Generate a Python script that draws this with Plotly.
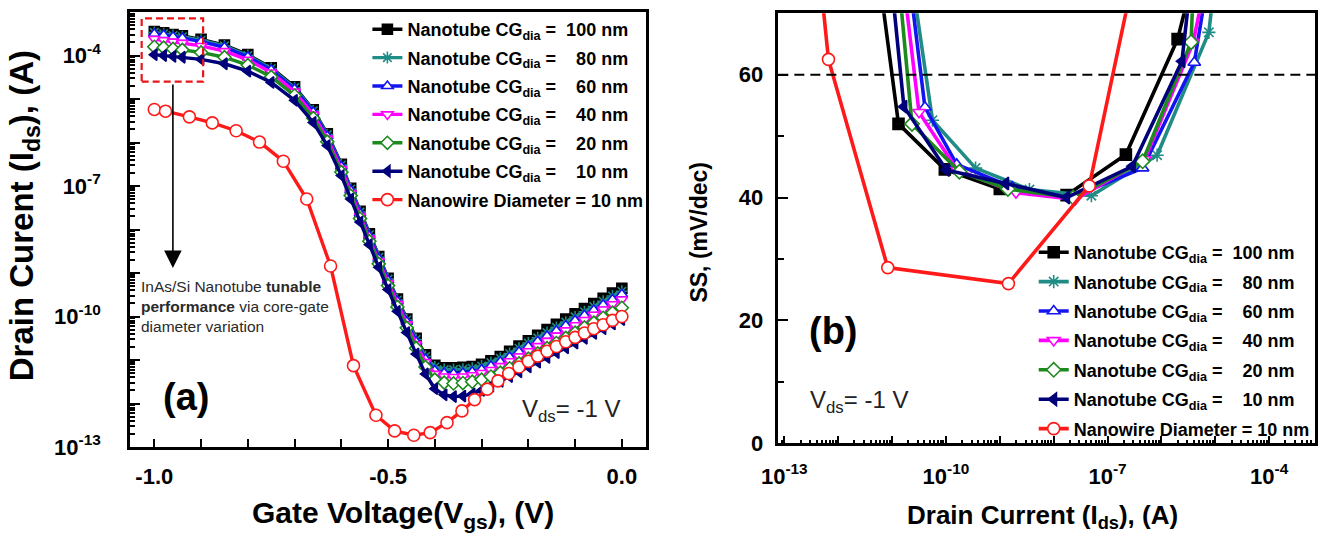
import plotly.graph_objects as go

# ---------------- Panel (a): Id-Vg (log10 of drain current, A) ----------------
vg_nt = [-1.00, -0.98, -0.96, -0.94, -0.90, -0.85, -0.80, -0.75, -0.70, -0.66, -0.63, -0.60,
         -0.58, -0.56, -0.54, -0.52, -0.50, -0.48, -0.46, -0.44, -0.42, -0.40, -0.38, -0.36,
         -0.34, -0.32, -0.30, -0.28, -0.26, -0.24, -0.22, -0.20, -0.18, -0.16, -0.14, -0.12,
         -0.10, -0.08, -0.06, -0.04, -0.02, 0.00]

log_id_100 = [-3.45, -3.48, -3.52, -3.55, -3.63, -3.76, -3.98, -4.28, -4.72, -5.25, -5.80, -6.50,
              -7.05, -7.58, -8.10, -8.62, -9.12, -9.60, -10.06, -10.50, -10.88, -11.12, -11.18, -11.18,
              -11.17, -11.15, -11.10, -11.02, -10.92, -10.80, -10.68, -10.56, -10.43, -10.30, -10.18, -10.06,
              -9.94, -9.82, -9.70, -9.58, -9.46, -9.35]
log_id_80 = [-3.47, -3.50, -3.54, -3.57, -3.65, -3.78, -4.00, -4.30, -4.74, -5.27, -5.82, -6.52,
             -7.07, -7.60, -8.12, -8.64, -9.14, -9.62, -10.08, -10.53, -10.92, -11.16, -11.22, -11.22,
             -11.21, -11.19, -11.14, -11.06, -10.96, -10.85, -10.73, -10.61, -10.49, -10.37, -10.25, -10.13,
             -10.01, -9.89, -9.77, -9.65, -9.53, -9.42]
log_id_60 = [-3.50, -3.53, -3.57, -3.60, -3.68, -3.81, -4.03, -4.33, -4.77, -5.30, -5.85, -6.55,
             -7.10, -7.63, -8.15, -8.67, -9.17, -9.65, -10.12, -10.58, -10.98, -11.24, -11.30, -11.31,
             -11.30, -11.27, -11.22, -11.14, -11.04, -10.93, -10.81, -10.69, -10.57, -10.45, -10.33, -10.21,
             -10.09, -9.97, -9.85, -9.73, -9.61, -9.49]
log_id_40 = [-3.62, -3.65, -3.68, -3.71, -3.78, -3.90, -4.10, -4.39, -4.83, -5.36, -5.91, -6.61,
             -7.16, -7.69, -8.21, -8.73, -9.23, -9.71, -10.18, -10.64, -11.05, -11.32, -11.38, -11.39,
             -11.38, -11.35, -11.30, -11.23, -11.14, -11.03, -10.92, -10.80, -10.68, -10.56, -10.44, -10.32,
             -10.20, -10.08, -9.96, -9.84, -9.72, -9.61]
log_id_20 = [-3.80, -3.82, -3.85, -3.87, -3.93, -4.04, -4.22, -4.49, -4.92, -5.44, -5.98, -6.68,
             -7.22, -7.75, -8.27, -8.79, -9.29, -9.78, -10.26, -10.73, -11.16, -11.45, -11.52, -11.54,
             -11.53, -11.50, -11.45, -11.38, -11.29, -11.19, -11.08, -10.97, -10.85, -10.73, -10.61, -10.49,
             -10.37, -10.25, -10.14, -10.03, -9.91, -9.80]
log_id_10 = [-3.98, -4.00, -4.02, -4.04, -4.09, -4.19, -4.36, -4.62, -5.03, -5.54, -6.07, -6.76,
             -7.30, -7.83, -8.35, -8.87, -9.38, -9.88, -10.37, -10.86, -11.32, -11.66, -11.80, -11.84,
             -11.83, -11.78, -11.70, -11.60, -11.49, -11.38, -11.27, -11.16, -11.05, -10.94, -10.83, -10.72,
             -10.61, -10.50, -10.39, -10.28, -10.17, -10.07]

vg_nw = [-1.000, -0.976, -0.925, -0.876, -0.825, -0.775, -0.724, -0.674, -0.623, -0.574, -0.526,
         -0.486, -0.445, -0.410, -0.374, -0.342, -0.315, -0.288, -0.265, -0.242, -0.220, -0.200,
         -0.180, -0.160, -0.140, -0.120, -0.100, -0.080, -0.060, -0.040, -0.020, 0.000]
log_id_nw = [-5.24, -5.28, -5.41, -5.55, -5.73, -5.99, -6.43, -7.30, -8.84, -11.13, -12.27,
             -12.63, -12.73, -12.67, -12.44, -12.17, -11.91, -11.67, -11.48, -11.31, -11.16, -11.03,
             -10.91, -10.80, -10.69, -10.58, -10.48, -10.38, -10.28, -10.19, -10.09, -10.00]

# ---------------- Panel (b): SS vs Ids (log10 of Ids, A) ----------------
ss_log_ids_100 = [-11.45, -10.88, -10.02, -9.00, -7.76, -6.66, -5.70, -5.15]
ss_100 = [90, 52.0, 44.6, 41.4, 40.4, 47.0, 65.8, 85]
ss_log_ids_80 = [-10.87, -10.25, -9.45, -8.45, -7.30, -6.08, -5.12, -4.89]
ss_80 = [90, 52.6, 44.8, 41.3, 40.3, 46.9, 66.9, 85]
ss_log_ids_60 = [-10.88, -10.39, -9.80, -8.77, -7.68, -6.35, -5.39, -4.96]
ss_60 = [90, 54.7, 45.4, 41.7, 40.0, 44.8, 62.0, 85]
ss_log_ids_40 = [-10.99, -10.50, -9.79, -8.70, -7.60, -6.31, -5.41, -4.95]
ss_40 = [90, 53.9, 44.5, 40.8, 39.7, 46.2, 65.3, 85]
ss_log_ids_20 = [-11.03, -10.63, -9.75, -8.85, -7.64, -6.35, -5.45, -5.36]
ss_20 = [90, 52.0, 44.2, 41.4, 40.0, 45.9, 65.3, 85]
ss_log_ids_10 = [-11.18, -10.78, -9.99, -8.89, -7.76, -6.54, -5.62, -5.33]
ss_10 = [90, 54.8, 44.5, 42.3, 40.0, 45.1, 62.2, 85]
ss_log_ids_nw = [-12.50, -12.18, -11.08, -8.84, -7.34, -6.30]
ss_nw = [90, 62.5, 28.6, 26.0, 41.9, 85]

ss_ideal = 60

NBSP = "\u00a0"
names = [
    "Nanotube CG<sub>dia</sub> =" + NBSP * 2 + "100 nm",
    "Nanotube CG<sub>dia</sub> =" + NBSP * 4 + "80 nm",
    "Nanotube CG<sub>dia</sub> =" + NBSP * 4 + "60 nm",
    "Nanotube CG<sub>dia</sub> =" + NBSP * 4 + "40 nm",
    "Nanotube CG<sub>dia</sub> =" + NBSP * 4 + "20 nm",
    "Nanotube CG<sub>dia</sub> =" + NBSP * 4 + "10 nm",
    "Nanowire Diameter = 10 nm",
]

styles = [
    dict(color="#000000", symbol="square", fill="#000000"),
    dict(color="#1f8c86", symbol="asterisk-open", fill="#1f8c86"),
    dict(color="#1414f0", symbol="triangle-up", fill="#ffffff"),
    dict(color="#ff00ff", symbol="triangle-down", fill="#ffffff"),
    dict(color="#1c8a1c", symbol="diamond", fill="#ffffff"),
    dict(color="#00007a", symbol="triangle-left", fill="#00007a"),
    dict(color="#ff1a1a", symbol="circle", fill="#ffffff"),
]

a_x = [vg_nt] * 6 + [vg_nw]
a_y = [log_id_100, log_id_80, log_id_60, log_id_40, log_id_20, log_id_10, log_id_nw]
b_x = [ss_log_ids_100, ss_log_ids_80, ss_log_ids_60, ss_log_ids_40, ss_log_ids_20, ss_log_ids_10, ss_log_ids_nw]
b_y = [ss_100, ss_80, ss_60, ss_40, ss_20, ss_10, ss_nw]

fig = go.Figure()

for i in range(7):
    st = styles[i]
    is_nw = i == 6
    mk = dict(symbol=st["symbol"], color=st["fill"], size=12 if is_nw else 10,
              line=dict(color=st["color"], width=1.6))
    fig.add_trace(go.Scatter(
        x=a_x[i], y=[10 ** v for v in a_y[i]], mode="lines+markers", name=names[i],
        line=dict(color=st["color"], width=3.4), marker=mk,
        xaxis="x", yaxis="y", legend="legend", legendgroup="a%d" % i))
for i in range(7):
    st = styles[i]
    is_nw = i == 6
    mk = dict(symbol=st["symbol"], color=st["fill"], size=12 if is_nw else 11,
              line=dict(color=st["color"], width=1.6))
    fig.add_trace(go.Scatter(
        x=[10 ** v for v in b_x[i]], y=b_y[i], mode="lines+markers", name=names[i],
        line=dict(color=st["color"], width=3.6), marker=mk,
        xaxis="x2", yaxis="y2", legend="legend2", legendgroup="b%d" % i))

# ---------------- geometry helpers (pixel -> paper) ----------------
L, R, T, B = 130, 8, 12, 94
W, H = 1326, 541
PW, PH = W - L - R, H - T - B


def px(x):
    return (x - L) / PW


def py(y):
    return (H - B - y) / PH


FONT = "Liberation Sans, Arial, sans-serif"
tickfont = dict(family=FONT, size=22, color="black", weight="bold")

decades_a = [10.0 ** k for k in range(-13, -2)]
labels_a = {-13: "10<sup>-13</sup>", -10: "10<sup>-10</sup>", -7: "10<sup>-7</sup>", -4: "10<sup>-4</sup>"}
ticktext_a = [labels_a.get(k, "") for k in range(-13, -2)]
minor_a = [m * 10.0 ** k for k in range(-13, -3) for m in range(2, 10)]

decades_b = [10.0 ** k for k in range(-13, -3)]
ticktext_b = [labels_a.get(k, "") for k in range(-13, -3)]
minor_b = [m * 10.0 ** k for k in range(-14, -3) for m in range(2, 10)]

axis_common = dict(showgrid=False, zeroline=False, showline=True, linecolor="black", linewidth=2.6,
                   mirror=True, ticks="inside", tickcolor="black", tickwidth=2, tickfont=tickfont)

fig.update_layout(
    width=W, height=H, margin=dict(l=L, r=R, t=T, b=B),
    paper_bgcolor="white", plot_bgcolor="white", showlegend=True,
    xaxis=dict(domain=[0, px(647)], range=[-1.052, 0.051], anchor="y",
               tickvals=[-1.0, -0.5, 0.0], ticktext=["-1.0", "-0.5", "0.0"], ticklen=8,
               ticklabelstandoff=8,
               minor=dict(ticks="inside", dtick=0.1, tick0=0, ticklen=8, tickwidth=2, tickcolor="black"),
               **axis_common),
    yaxis=dict(domain=[0, 1], type="log", range=[-13, -3], anchor="x",
               tickvals=decades_a, ticktext=ticktext_a, ticklen=10, ticklabelstandoff=22,
               minor=dict(ticks="inside", tickvals=minor_a, ticklen=5, tickwidth=1.5, tickcolor="black"),
               **axis_common),
    xaxis2=dict(domain=[px(780), 1], type="log", range=[-13.11, -3.15], anchor="y2",
                tickvals=decades_b, ticktext=ticktext_b, ticklen=8, ticklabelstandoff=11,
                minor=dict(ticks="inside", tickvals=minor_b, ticklen=4, tickwidth=1.5, tickcolor="black"),
                **axis_common),
    yaxis2=dict(domain=[py(443.3), py(13.3)], range=[0, 70], anchor="x2",
                tickvals=[0, 20, 40, 60], ticklen=10, ticklabelstandoff=8,
                minor=dict(ticks="inside", dtick=10, tick0=0, ticklen=6, tickwidth=2, tickcolor="black"),
                **axis_common),
    legend=dict(x=px(368), y=py(11), xanchor="left", yanchor="top", bgcolor="rgba(0,0,0,0)",
                font=dict(family=FONT, size=18, color="black", weight="bold"),
                traceorder="grouped", tracegroupgap=2, itemwidth=30),
    legend2=dict(x=px(1036), y=py(234), xanchor="left", yanchor="top", bgcolor="rgba(0,0,0,0)",
                 font=dict(family=FONT, size=18, color="black", weight="bold"),
                 traceorder="grouped", tracegroupgap=3, itemwidth=30),
)

# dashed SS = 60 mV/dec reference line
fig.add_shape(type="line", xref="x2 domain", x0=0, x1=1, yref="y2", y0=ss_ideal, y1=ss_ideal,
              line=dict(color="black", width=2.2, dash="10px,6px"))

# red dashed box in (a)
fig.add_shape(type="rect", xref="paper", yref="paper", x0=px(141.7), x1=px(203.3), y0=py(81.7), y1=py(18.3),
              line=dict(color="#e8161b", width=2.2, dash="7px,4px"))

annots = [
    # axis titles
    dict(text="<b>Gate Voltage(V<sub>gs</sub>), (V)</b>", x=px(404), y=py(514), font=dict(size=30)),
    dict(text="<b>Drain Curent (I<sub>ds</sub>), (A)</b>", x=px(24), y=py(216), textangle=-90, font=dict(size=33)),
    dict(text="<b>Drain Current (I<sub>ds</sub>), (A)</b>", x=px(1045), y=py(516), font=dict(size=26)),
    dict(text="<b>SS, (mV/dec)</b>", x=px(700), y=py(232), textangle=-90, font=dict(size=23)),
    # panel labels
    dict(text="<b>(a)</b>", x=px(186), y=py(397), font=dict(size=38)),
    dict(text="<b>(b)</b>", x=px(835), y=py(331), font=dict(size=38)),
    dict(text="V<sub>ds</sub>= -1 V", x=px(572), y=py(410), font=dict(size=24, color="#222222")),
    dict(text="V<sub>ds</sub>= -1 V", x=px(861), y=py(401), font=dict(size=24, color="#222222")),
    dict(text="InAs/Si Nanotube <b>tunable</b><br><b>performance</b> via core-gate<br>diameter variation",
         x=px(139), y=py(276), xanchor="left", yanchor="top", align="left",
         font=dict(size=15.5, color="#2a2a2a")),
]
for a in annots:
    base = dict(xref="paper", yref="paper", showarrow=False, xanchor="center", yanchor="middle")
    base.update(a)
    f = dict(family=FONT, color="black")
    f.update(a.get("font", {}))
    base["font"] = f
    fig.add_annotation(**base)

# downward arrow from the dashed box
fig.add_annotation(xref="paper", yref="paper", x=px(173), y=py(268), text="", showarrow=True,
                   ax=0, ay=-185, arrowhead=2, arrowsize=2.2, arrowwidth=1.6, arrowcolor="black",
                   standoff=0, startstandoff=0)

# remove the browser's default page margin so the figure sits at the window origin
fig.write_html("out.html", config={"displayModeBar": False},
               post_script="document.body.style.margin='0px';")
